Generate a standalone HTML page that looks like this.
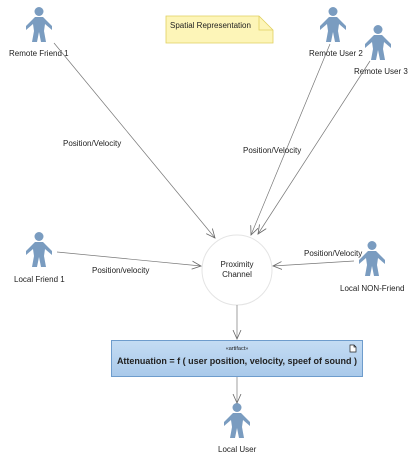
<!DOCTYPE html>
<html><head><style>
body{margin:0;background:#fff;width:417px;height:463px;overflow:hidden}
svg text{font-family:"Liberation Sans",sans-serif;font-size:8px;fill:#222}
</style></head><body>
<svg width="417" height="463" viewBox="0 0 417 463">
<defs>
<g id="act">
<circle cx="0" cy="4.5" r="4.5" fill="#7a9cc0"/>
<path d="M-4,10 L4,10 L6,12 L13,19 L13,23 L6,17 L5,24 L7,35 L2,35 L0,25 L-2,35 L-7,35 L-5,24 L-6,17 L-13,23 L-13,19 L-6,12 Z" fill="#7a9cc0"/>
</g>
<marker id="ar" markerWidth="10" markerHeight="10" refX="9" refY="5" orient="auto" markerUnits="userSpaceOnUse">
<path d="M0,1 L9,5 L0,9" fill="none" stroke="#666" stroke-width="0.8"/>
</marker>
</defs>
<use href="#act" x="39" y="7"/>
<use href="#act" x="333" y="7"/>
<use href="#act" x="378" y="25"/>
<use href="#act" x="39" y="232"/>
<use href="#act" x="372" y="241"/>
<use href="#act" x="237" y="403"/>
<text x="9" y="56">Remote Friend 1</text>
<text x="309" y="56">Remote User 2</text>
<text x="354" y="74">Remote User 3</text>
<text x="14" y="282">Local Friend 1</text>
<text x="340" y="291">Local NON-Friend</text>
<text x="218" y="452">Local User</text>
<path d="M166,16 L259,16 L273,30 L273,43 L166,43 Z" fill="#fdf5b8" stroke="#e0cf60" stroke-width="0.8"/>
<path d="M259,16 L259,30 L273,30" fill="none" stroke="#e0cf60" stroke-width="0.8"/>
<text x="170" y="28">Spatial Representation</text>
<circle cx="237" cy="270" r="35" fill="#fff" stroke="#e4e4e4"/>
<text x="237" y="267" text-anchor="middle">Proximity</text>
<text x="237" y="277" text-anchor="middle">Channel</text>
<g stroke="#777" stroke-width="0.7" fill="none" marker-end="url(#ar)">
<line x1="54" y1="43" x2="215" y2="238"/>
<line x1="330" y1="44" x2="251" y2="235"/>
<line x1="370" y1="61" x2="258" y2="234"/>
<line x1="57" y1="252" x2="201" y2="266"/>
<line x1="354" y1="261" x2="273" y2="266"/>
<line x1="237" y1="305" x2="237" y2="339"/>
<line x1="237" y1="377" x2="237" y2="403"/>
</g>
<text x="63" y="146">Position/Velocity</text>
<text x="243" y="153">Position/Velocity</text>
<text x="92" y="273">Position/velocity</text>
<text x="304" y="256">Position/Velocity</text>
<defs><linearGradient id="g" x1="0" y1="0" x2="0" y2="1"><stop offset="0" stop-color="#c4dcf3"/><stop offset="1" stop-color="#a9c9ea"/></linearGradient></defs>
<rect x="111.5" y="340.5" width="251" height="36" fill="url(#g)" stroke="#6e9ccc"/>
<text x="237" y="350" text-anchor="middle" style="font-size:5.5px">«artifact»</text>
<text x="237" y="364" text-anchor="middle" style="font-size:9px;font-weight:bold">Attenuation = f ( user position, velocity, speef of sound )</text>
<path d="M350,345 L354,345 L356,347 L356,352 L350,352 Z M354,345 L354,347 L356,347" fill="#fff" stroke="#222" stroke-width="0.7"/>
</svg>
</body></html>
